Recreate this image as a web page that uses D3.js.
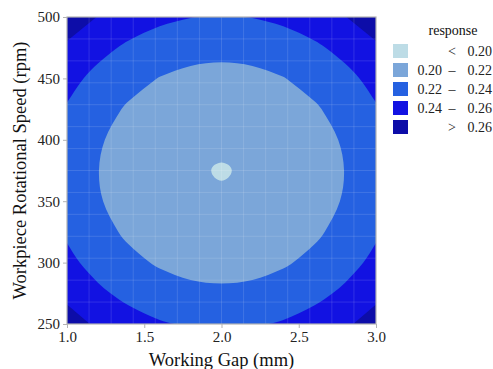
<!DOCTYPE html>
<html>
<head>
<meta charset="utf-8">
<script src="https://cdn.jsdelivr.net/npm/d3@7"></script>
<style>
  body { margin: 0; background: #fff; }
  svg text { font-family: "Liberation Serif", "Times New Roman", serif; }
</style>
</head>
<body>
<div id="chart"></div>
<script>
"use strict";

// grid of the fitted response
var gapValues = [1.0, 1.2, 1.4, 1.6, 1.8, 2.0, 2.2, 2.4, 2.6, 2.8, 3.0];
var speedValues = [250, 275, 300, 325, 350, 375, 400, 425, 450, 475, 500];
// one row per speed (bottom to top), one column per gap
var response = [
  [0.2685, 0.2570, 0.2481, 0.2418, 0.2380, 0.2367, 0.2380, 0.2418, 0.2481, 0.2570, 0.2685],
  [0.2551, 0.2436, 0.2347, 0.2284, 0.2245, 0.2233, 0.2245, 0.2284, 0.2347, 0.2436, 0.2551],
  [0.2447, 0.2332, 0.2243, 0.2180, 0.2141, 0.2129, 0.2141, 0.2180, 0.2243, 0.2332, 0.2447],
  [0.2373, 0.2259, 0.2170, 0.2106, 0.2068, 0.2055, 0.2068, 0.2106, 0.2170, 0.2259, 0.2373],
  [0.2330, 0.2215, 0.2126, 0.2063, 0.2025, 0.2012, 0.2025, 0.2063, 0.2126, 0.2215, 0.2330],
  [0.2317, 0.2203, 0.2114, 0.2050, 0.2012, 0.1994, 0.2012, 0.2050, 0.2114, 0.2203, 0.2317],
  [0.2335, 0.2220, 0.2131, 0.2068, 0.2029, 0.2017, 0.2029, 0.2068, 0.2131, 0.2220, 0.2335],
  [0.2383, 0.2268, 0.2179, 0.2116, 0.2078, 0.2065, 0.2078, 0.2116, 0.2179, 0.2268, 0.2383],
  [0.2461, 0.2347, 0.2258, 0.2194, 0.2156, 0.2143, 0.2156, 0.2194, 0.2258, 0.2347, 0.2461],
  [0.2570, 0.2456, 0.2367, 0.2303, 0.2265, 0.2252, 0.2265, 0.2303, 0.2367, 0.2456, 0.2570],
  [0.2709, 0.2595, 0.2506, 0.2442, 0.2404, 0.2391, 0.2404, 0.2442, 0.2506, 0.2595, 0.2709]
];

var breaks = [0.20, 0.22, 0.24, 0.26];
var bandColors = ["#bddce6", "#7ba6d9", "#2561e1", "#1212e2", "#0d0da8"];
var bandLabels = [["", "<", "0.20"], ["0.20", "\u2013", "0.22"], ["0.22", "\u2013", "0.24"],
                  ["0.24", "\u2013", "0.26"], ["", ">", "0.26"]];
var xTicks = [1.0, 1.5, 2.0, 2.5, 3.0];
var yTicks = [250, 300, 350, 400, 450, 500];

var width = 493, height = 369;
var plot = {left: 67, right: 376, top: 17, bottom: 324};

var svg = d3.select("#chart").append("svg")
  .attr("width", width)
  .attr("height", height);

var x = d3.scaleLinear().domain([1, 3]).range([plot.left, plot.right]);
var y = d3.scaleLinear().domain([250, 500]).range([plot.bottom, plot.top]);

svg.append("clipPath").attr("id", "panel")
  .append("rect")
  .attr("x", plot.left).attr("y", plot.top)
  .attr("width", plot.right - plot.left)
  .attr("height", plot.bottom - plot.top);

// contours: grid value i sits at contour coordinate i + 0.5
var nx = gapValues.length, ny = speedValues.length;
var flat = [];
response.forEach(function (row) { row.forEach(function (v) { flat.push(v); }); });

var gridX = d3.scaleLinear().domain([0.5, nx - 0.5]).range([gapValues[0], gapValues[nx - 1]]);
var gridY = d3.scaleLinear().domain([0.5, ny - 0.5]).range([speedValues[0], speedValues[ny - 1]]);

var contours = d3.contours().size([nx, ny]).thresholds(breaks)(flat);

// smooth the inner part of each ring; segments that run to the grid frame stay straight
function ringPath(ring, ctx) {
  var pts = ring.slice(0, -1).map(function (p) {
    return {
      x: x(gridX(p[0])), y: y(gridY(p[1])),
      frame: p[0] <= 0 || p[0] >= nx || p[1] <= 0 || p[1] >= ny
    };
  });
  var n = pts.length;
  function tangent(i) {
    var prev = pts[(i - 1 + n) % n], cur = pts[i], next = pts[(i + 1) % n];
    var a = prev.frame ? cur : prev, b = next.frame ? cur : next;
    var tx = b.x - a.x, ty = b.y - a.y, len = Math.hypot(tx, ty) || 1;
    return [tx / len, ty / len];
  }
  ctx.moveTo(pts[0].x, pts[0].y);
  for (var i = 0; i < n; i++) {
    var j = (i + 1) % n, p = pts[i], q = pts[j];
    if (p.frame || q.frame) {
      ctx.lineTo(q.x, q.y);
    } else {
      var d = Math.hypot(q.x - p.x, q.y - p.y) / 3;
      var t0 = tangent(i), t1 = tangent(j);
      ctx.bezierCurveTo(p.x + t0[0] * d, p.y + t0[1] * d, q.x - t1[0] * d, q.y - t1[1] * d, q.x, q.y);
    }
  }
  ctx.closePath();
}

function bandPath(c) {
  var ctx = d3.path();
  c.coordinates.forEach(function (polygon) {
    polygon.forEach(function (ring) { ringPath(ring, ctx); });
  });
  return ctx.toString();
}

var panel = svg.append("g").attr("clip-path", "url(#panel)");

panel.append("rect")
  .attr("x", plot.left).attr("y", plot.top)
  .attr("width", plot.right - plot.left)
  .attr("height", plot.bottom - plot.top)
  .attr("fill", bandColors[0]);

panel.selectAll("path.band")
  .data(contours)
  .enter().append("path")
  .attr("class", "band")
  .attr("d", bandPath)
  .attr("fill-rule", "evenodd")
  .attr("fill", function (d, i) { return bandColors[i + 1]; });

// faint tile seams of the rendered surface
var seams = d3.range(1, 14);
panel.selectAll("line.vseam").data(seams).enter().append("line")
  .attr("x1", function (k) { return x(1 + k * 2 / 14); })
  .attr("x2", function (k) { return x(1 + k * 2 / 14); })
  .attr("y1", plot.top).attr("y2", plot.bottom)
  .attr("stroke", "#fff").attr("stroke-opacity", 0.13).attr("stroke-width", 1);
panel.selectAll("line.hseam").data(seams).enter().append("line")
  .attr("y1", function (k) { return y(250 + k * 250 / 14); })
  .attr("y2", function (k) { return y(250 + k * 250 / 14); })
  .attr("x1", plot.left).attr("x2", plot.right)
  .attr("stroke", "#fff").attr("stroke-opacity", 0.13).attr("stroke-width", 1);

// panel frame
svg.append("rect")
  .attr("x", plot.left).attr("y", plot.top)
  .attr("width", plot.right - plot.left)
  .attr("height", plot.bottom - plot.top)
  .attr("fill", "none")
  .attr("stroke", "#b3b3b3")
  .attr("stroke-width", 1.2);

// axes
var xAxis = svg.append("g")
  .attr("transform", "translate(0," + plot.bottom + ")")
  .call(d3.axisBottom(x).tickValues(xTicks).tickFormat(d3.format(".1f")).tickSize(4).tickPadding(3));
var yAxis = svg.append("g")
  .attr("transform", "translate(" + plot.left + ",0)")
  .call(d3.axisLeft(y).tickValues(yTicks).tickSize(4).tickPadding(3));

[xAxis, yAxis].forEach(function (ax) {
  ax.select(".domain").remove();
  ax.selectAll(".tick line").attr("stroke", "#b3b3b3");
  ax.selectAll(".tick text")
    .attr("fill", "#222")
    .style("font-size", "15px")
    .style("font-family", "'Liberation Serif', 'Times New Roman', serif");
});

svg.append("text")
  .attr("x", (plot.left + plot.right) / 2)
  .attr("y", 366)
  .attr("text-anchor", "middle")
  .attr("fill", "#111")
  .style("font-size", "18.5px")
  .text("Working Gap (mm)");

svg.append("text")
  .attr("transform", "translate(26," + (plot.top + plot.bottom) / 2 + ") rotate(-90)")
  .attr("text-anchor", "middle")
  .attr("fill", "#111")
  .style("font-size", "18.5px")
  .text("Workpiece Rotational Speed (rpm)");

// legend
var legend = svg.append("g");
legend.append("text")
  .attr("x", 453).attr("y", 35)
  .attr("text-anchor", "middle")
  .attr("fill", "#111")
  .style("font-size", "14px")
  .text("response");

var items = legend.selectAll("g.item")
  .data(bandColors)
  .enter().append("g")
  .attr("class", "item")
  .attr("transform", function (d, i) { return "translate(393," + (44 + i * 19) + ")"; });

items.append("rect")
  .attr("width", 15).attr("height", 14)
  .attr("fill", function (d) { return d; });

items.each(function (d, i) {
  var g = d3.select(this);
  var parts = bandLabels[i];
  g.append("text").attr("x", 49).attr("y", 12).attr("text-anchor", "end")
    .attr("fill", "#222").style("font-size", "14px").text(parts[0]);
  g.append("text").attr("x", 59).attr("y", 12).attr("text-anchor", "middle")
    .attr("fill", "#222").style("font-size", "14px").text(parts[1]);
  g.append("text").attr("x", 99).attr("y", 12).attr("text-anchor", "end")
    .attr("fill", "#222").style("font-size", "14px").text(parts[2]);
});
</script>
</body>
</html>
